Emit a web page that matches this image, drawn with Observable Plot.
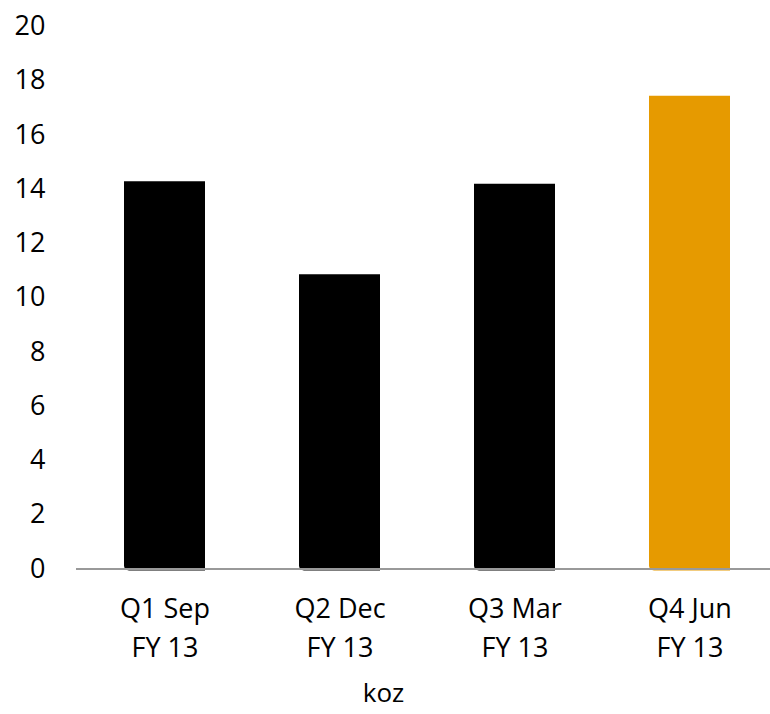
<!DOCTYPE html>
<html>
<head>
<meta charset="utf-8">
<script src="https://cdn.jsdelivr.net/npm/d3@7"></script>
<script src="https://cdn.jsdelivr.net/npm/@observablehq/plot@0.6"></script>
<style>
  html, body { margin: 0; padding: 0; background: #fff; }
  #chart svg { display: block; }
</style>
</head>
<body>
<div id="chart"></div>
<script>
const categories = ["Q1 Sep\nFY 13", "Q2 Dec\nFY 13", "Q3 Mar\nFY 13", "Q4 Jun\nFY 13"];
const values = [14.28, 10.85, 14.18, 17.43];
const highlight = [false, false, false, true];
const yTicks = [0, 2, 4, 6, 8, 10, 12, 14, 16, 18, 20];
const axisLabel = "koz";

const data = categories.map((c, i) => ({category: c, value: values[i], hi: highlight[i]}));

const chart = Plot.plot({
  width: 770,
  height: 714,
  marginLeft: 76,
  marginRight: 0,
  marginTop: 26,
  marginBottom: 145.5,
  style: {fontFamily: "'Open Sans', sans-serif", fontSize: "27px", color: "#000", background: "#fff"},
  x: {domain: categories, range: [75.2, 778], paddingInner: 0.54, paddingOuter: 0.27, align: 0.5},
  y: {domain: [0, 20]},
  marks: [
    Plot.barY(data, {x: "category", y: "value", fill: d => d.hi ? "#E69A00" : "#000", rx1y2: 5, insetBottom: -2}),
    Plot.ruleY([0], {stroke: "#999", strokeWidth: 2}),
    Plot.axisY({ticks: yTicks, tickSize: 0, tickPadding: 31, label: null, fontSize: 27}),
    Plot.axisX({tickSize: 0, tickPadding: 21, label: null, lineHeight: 1.45, fontSize: 27}),
    Plot.text([axisLabel], {frameAnchor: "bottom", dx: -40, dy: 133, fontSize: 26, fill: "#000"})
  ]
});
document.getElementById("chart").appendChild(chart);
</script>
</body>
</html>
